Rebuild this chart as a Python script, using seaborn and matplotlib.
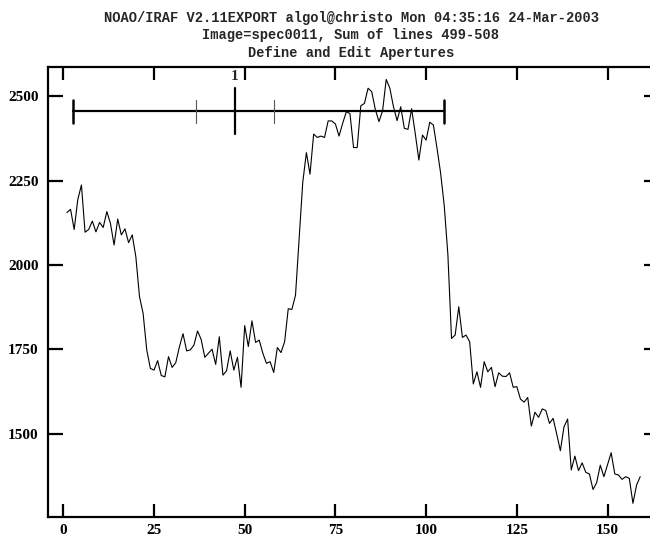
import numpy as np
import pandas as pd
import matplotlib
matplotlib.use("Agg")
import matplotlib.pyplot as plt
import seaborn as sns

# Summed spectrum across the dispersion cut (column -> counts)
columns = np.arange(1, 160)
counts = [
    2155, 2165, 2105, 2194, 2237, 2097, 2105, 2130, 2098, 2126,
    2111, 2158, 2123, 2059, 2136, 2089, 2107, 2066, 2089, 2024,
    1906, 1856, 1748, 1693, 1688, 1716, 1672, 1668, 1728, 1696,
    1710, 1757, 1796, 1745, 1748, 1762, 1804, 1779, 1726, 1738,
    1750, 1705, 1787, 1673, 1686, 1745, 1688, 1726, 1637, 1820,
    1758, 1834, 1770, 1777, 1738, 1708, 1713, 1681, 1755, 1740,
    1772, 1870, 1868, 1910, 2080, 2245, 2333, 2269, 2388, 2378,
    2382, 2378, 2427, 2427, 2418, 2382, 2420, 2454, 2449, 2348,
    2348, 2472, 2479, 2524, 2514, 2461, 2425, 2457, 2550, 2524,
    2469, 2428, 2469, 2405, 2402, 2463, 2390, 2311, 2385, 2370,
    2423, 2415, 2346, 2272, 2175, 2030, 1782, 1792, 1876, 1785,
    1792, 1772, 1647, 1683, 1637, 1713, 1683, 1696, 1639, 1680,
    1670, 1669, 1680, 1637, 1639, 1602, 1593, 1607, 1522, 1563,
    1548, 1573, 1568, 1530, 1545, 1498, 1449, 1520, 1543, 1392,
    1433, 1390, 1413, 1385, 1380, 1334, 1354, 1406, 1372, 1407,
    1443, 1380, 1377, 1364, 1372, 1367, 1293, 1347, 1372,
]

# Aperture 1 definition
ap_id = "1"
ap_center = 47.4
ap_lower = 2.66
ap_upper = 104.9
ap_background = [36.7, 58.0]
ap_level = 2456

x_ticks = [0, 25, 50, 75, 100, 125, 150]
y_ticks = [1500, 1750, 2000, 2250, 2500]

title_lines = [
    "NOAO/IRAF V2.11EXPORT algol@christo Mon 04:35:16 24-Mar-2003",
    "Image=spec0011, Sum of lines 499-508",
    "Define and Edit Apertures",
]

sns.set_theme(style="ticks")
plt.rcParams["font.family"] = ["Liberation Serif", "DejaVu Serif"]
plt.rcParams["font.weight"] = "bold"

df = pd.DataFrame({"column": columns, "counts": counts})

W, H = 650, 540
fig = plt.figure(figsize=(W / 100, H / 100), dpi=100)
ax_left, ax_right, ax_top, ax_bottom = 48.3, 658.7, 66.7, 516.7
ax = fig.add_axes([ax_left / W, 1 - ax_bottom / H,
                   (ax_right - ax_left) / W, (ax_bottom - ax_top) / H])

sns.lineplot(data=df, x="column", y="counts", ax=ax, color="black",
             linewidth=0.8, estimator=None, sort=False)

ax.set_xlim(-4.13, 164.1)
ax.set_ylim(1253.3, 2587.8)
ax.set_xticks(x_ticks)
ax.set_yticks(y_ticks)
ax.set_xlabel("")
ax.set_ylabel("")

for s in ax.spines.values():
    s.set_linewidth(1.6)
    s.set_color("black")
ax.spines["right"].set_visible(False)

ax.tick_params(axis="x", direction="in", length=9.5, width=1.6,
               top=True, bottom=True, labelsize=11, pad=5, colors="black")
ax.tick_params(axis="y", direction="in", length=10.8, width=1.6,
               left=True, right=True, labelsize=11, pad=7, colors="black")
for lab in ax.get_xticklabels() + ax.get_yticklabels():
    lab.set_fontweight("bold")

# Aperture marker: extent bar, end caps, center, background marks
ax.plot([ap_lower, ap_upper], [ap_level, ap_level], color="black", lw=1.6)
cap_half = 34
for xc in (ap_lower, ap_upper):
    ax.plot([xc, xc], [ap_level - cap_half, ap_level + cap_half],
            color="black", lw=1.8)
for xb in ap_background:
    ax.plot([xb, xb], [ap_level - cap_half, ap_level + cap_half],
            color="#555555", lw=0.8)
ax.plot([ap_center, ap_center], [ap_level - 68, ap_level + 68],
        color="black", lw=1.6)
ax.text(ap_center - 0.3, 2558, ap_id, ha="center", va="center",
        fontsize=11, fontweight="bold")

for i, line in enumerate(title_lines):
    fig.text(351 / W, 1 - (18 + 17.5 * i) / H, line, ha="center",
             va="center", fontsize=9.9, fontweight="bold",
             family=["Liberation Mono", "DejaVu Sans Mono"])

fig.savefig("out.png", dpi=100)
